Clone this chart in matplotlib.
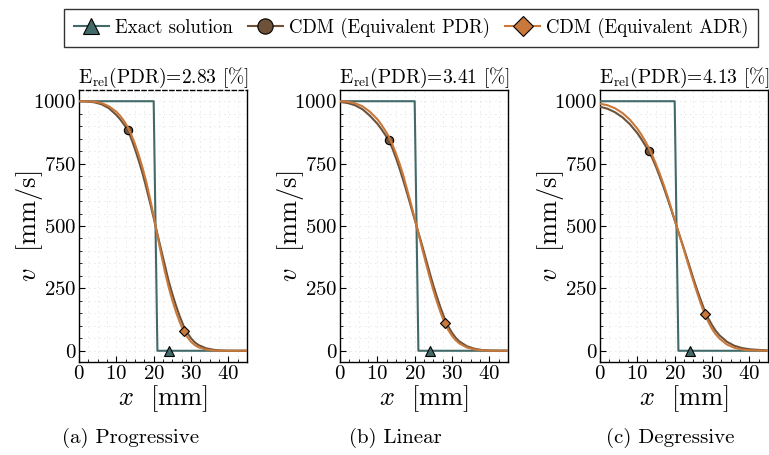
import numpy as np
import matplotlib
matplotlib.use("Agg")
import matplotlib.pyplot as plt
from matplotlib.ticker import MultipleLocator
from matplotlib.lines import Line2D

plt.rcParams["font.family"] = ["cmr10", "DejaVu Serif"]
plt.rcParams["mathtext.fontset"] = "cm"
plt.rcParams["axes.formatter.use_mathtext"] = True

C_EXACT = "#416a68"
C_PDR = "#6e5139"
C_ADR = "#c8783a"

# exact step solution (same for all panels)
x_exact = [0, 20, 21, 24, 45]
v_exact = [1000, 1000, 0, 0, 0]

# sampled CDM curves, x in mm
x_cdm = [0, 2, 4, 6, 8, 10, 11, 12, 13, 14, 15, 16, 17, 18, 19, 20, 21, 22, 23, 24,
         25, 26, 27, 28, 29, 30, 31, 32, 34, 36, 38, 40, 45]

v_pdr = {
    "prog": [1000, 999, 996, 988, 972, 945, 928, 908, 886, 850, 808, 762, 712, 655, 595, 532,
             468, 405, 343, 280, 228, 180, 137, 100, 72, 50, 34, 23, 10, 4, 1, 0, 0],
    "lin": [997, 993, 984, 968, 942, 910, 890, 868, 845, 812, 772, 728, 680, 630, 578, 526,
            474, 422, 368, 314, 262, 214, 170, 130, 98, 72, 52, 37, 18, 8, 3, 1, 0],
    "deg": [978, 970, 956, 936, 908, 872, 850, 826, 800, 772, 737, 698, 657, 614, 569, 523,
            477, 431, 385, 338, 290, 245, 203, 162, 130, 103, 80, 62, 36, 20, 11, 6, 1],
}
v_adr = {
    "prog": [1000, 1000, 998, 993, 980, 958, 942, 922, 898, 866, 828, 784, 734, 678, 612, 540,
             462, 388, 318, 256, 202, 155, 114, 80, 55, 36, 23, 14, 5, 1, 0, 0, 0],
    "lin": [1000, 998, 992, 980, 958, 928, 908, 885, 860, 828, 790, 748, 700, 645, 590, 530,
            470, 410, 352, 296, 243, 195, 151, 113, 83, 60, 42, 29, 13, 5, 2, 0, 0],
    "deg": [990, 984, 972, 953, 926, 890, 868, 843, 815, 784, 748, 710, 668, 623, 575, 525,
            475, 428, 378, 328, 280, 233, 189, 149, 116, 88, 66, 49, 25, 12, 5, 2, 0],
}

panels = ["prog", "lin", "deg"]
errors = ["2.83", "3.41", "4.13"]
captions = ["(a) Progressive", "(b) Linear", "(c) Degressive"]
caption_x = [131, 395, 670]
ax_left = [79, 340, 600]

W, H = 769, 455
fig = plt.figure(figsize=(W / 100, H / 100), dpi=100)

i13 = x_cdm.index(13)
i28 = x_cdm.index(28)

for k, key in enumerate(panels):
    ax = fig.add_axes([ax_left[k] / W, (H - 362) / H, 168 / W, 272 / H])
    ax.plot(x_exact, v_exact, color=C_EXACT, lw=1.5, marker="^", markevery=[3],
            ms=7, mfc=C_EXACT, mec="black", mew=0.8, zorder=3)
    ax.plot(x_cdm, v_pdr[key], color=C_PDR, lw=1.5, marker="o", markevery=[i13],
            ms=6, mfc=C_PDR, mec="black", mew=0.8, zorder=4)
    ax.plot(x_cdm, v_adr[key], color=C_ADR, lw=1.5, marker="D", markevery=[i28],
            ms=5, mfc=C_ADR, mec="black", mew=0.8, zorder=5)

    ax.set_xlim(0, 45)
    ax.set_ylim(-45, 1045)
    ax.set_xticks([0, 10, 20, 30, 40])
    ax.set_yticks([0, 250, 500, 750, 1000])
    ax.xaxis.set_minor_locator(MultipleLocator(2.5))
    ax.yaxis.set_minor_locator(MultipleLocator(50))
    ax.tick_params(which="both", direction="in", labelsize=15, pad=2)
    ax.tick_params(which="major", length=4, width=0.8)
    ax.tick_params(which="minor", length=2.5, width=0.6)
    ax.grid(which="both", color="#d0d0d0", ls=(0, (1, 5)), lw=0.6)
    for s in ax.spines.values():
        s.set_linewidth(1.0)
    if k == 0:
        ax.spines["top"].set_linestyle((0, (3, 2)))

    ax.set_title(r"$\mathrm{E_{rel}}$(PDR)=" + errors[k] + " [%]", fontsize=14, pad=5)
    ax.set_xlabel(r"$x$  [mm]", fontsize=19, labelpad=0)
    ax.set_ylabel(r"$v$  [mm/s]", fontsize=19)
    ax.yaxis.set_label_coords(-0.205, 0.5)

    fig.text(caption_x[k] / W, 1 - 438 / H, captions[k], ha="center", va="center", fontsize=15)

handles = [
    Line2D([], [], color=C_EXACT, lw=1.5, marker="^", ms=12, mfc=C_EXACT, mec="black", mew=0.8),
    Line2D([], [], color=C_PDR, lw=1.5, marker="o", ms=11, mfc=C_PDR, mec="black", mew=0.8),
    Line2D([], [], color=C_ADR, lw=1.5, marker="D", ms=10, mfc=C_ADR, mec="black", mew=0.8),
]
labels = ["Exact solution", "CDM (Equivalent PDR)", "CDM (Equivalent ADR)"]
leg = fig.legend(handles, labels, loc="center", bbox_to_anchor=(411 / W, 1 - 28 / H),
                 ncol=3, fontsize=13.5, frameon=True, fancybox=False, edgecolor="black",
                 handlelength=1.9, columnspacing=0.8, handletextpad=0.3, borderpad=0.5)
leg.get_frame().set_linewidth(1.0)

fig.savefig("out.png", dpi=100)
